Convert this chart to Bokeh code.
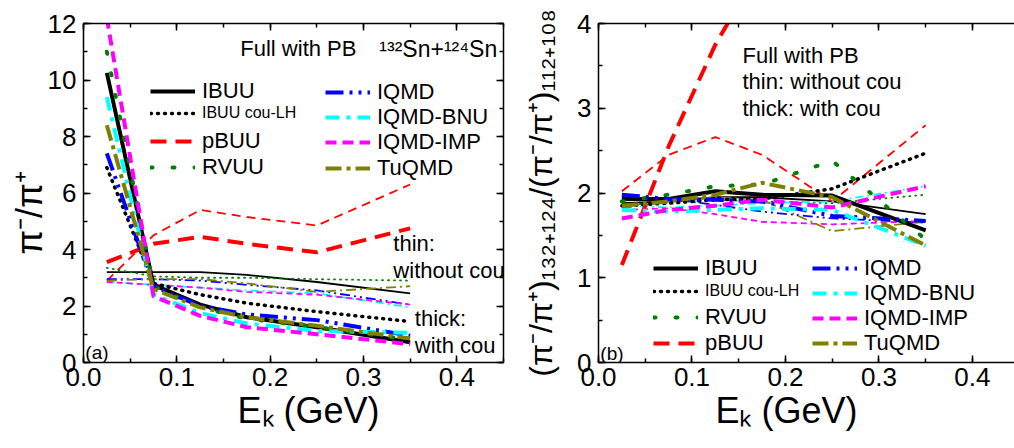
from bokeh.plotting import figure
from bokeh.models import (Range1d, LinearAxis, Legend, LegendItem, Label,
                          SingleIntervalTicker, NumeralTickFormatter, CustomJSTickFormatter)
from bokeh.layouts import row
from bokeh.embed import file_html
from bokeh.resources import INLINE

FONT = "Liberation Sans"

# ---------------- data ----------------
E_K = [0.025, 0.075, 0.125, 0.175, 0.25, 0.35]

# panel (a): pi-/pi+ ratio, thin = without Coulomb, thick = with Coulomb
a_thin = {
    "IBUU":     [3.2, 3.2, 3.2, 3.1, 2.85, 2.45],
    "pBUU":     [2.9, 4.5, 5.4, 5.15, 4.85, 6.3],
    "RVUU":     [3.35, 3.05, 3.0, 3.0, 2.95, 2.9],
    "IQMD":     [2.95, 2.95, 2.9, 2.75, 2.55, 2.05],
    "IQMD-BNU": [2.85, 2.75, 2.65, 2.55, 2.45, 1.95],
    "IQMD-IMP": [2.85, 2.75, 2.65, 2.5, 2.4, 2.05],
    "TuQMD":    [2.9, 2.95, 2.95, 2.8, 2.5, 2.7],
}
a_thick = {
    "IBUU":        [10.25, 2.75, 2.05, 1.6, 1.25, 0.72],
    "IBUU cou-LH": [6.9, 2.8, 2.4, 2.1, 1.8, 1.45],
    "pBUU":        [3.55, 4.2, 4.45, 4.2, 3.9, 4.75],
    "RVUU":        [11.0, 2.7, 1.95, 1.55, 1.25, 0.8],
    "IQMD":        [7.4, 2.7, 2.0, 1.7, 1.5, 0.95],
    "IQMD-BNU":    [9.4, 2.4, 1.75, 1.38, 1.12, 1.05],
    "IQMD-IMP":    [12.2, 2.35, 1.65, 1.25, 1.0, 0.65],
    "TuQMD":       [8.4, 2.6, 1.95, 1.6, 1.3, 0.85],
}

# panel (b): double ratio (132+124)/(112+108)
b_thin = {
    "IBUU":     [1.88, 1.9, 1.95, 1.95, 1.9, 1.75],
    "pBUU":     [2.02, 2.45, 2.66, 2.45, 1.9, 2.8],
    "RVUU":     [1.85, 1.9, 1.92, 1.9, 1.88, 1.98],
    "IQMD":     [1.95, 1.93, 1.86, 1.78, 1.7, 1.65],
    "IQMD-BNU": [1.85, 1.83, 1.85, 1.88, 1.9, 2.08],
    "IQMD-IMP": [1.8, 1.82, 1.75, 1.66, 1.63, 1.67],
    "TuQMD":    [1.82, 1.9, 1.95, 1.92, 1.55, 1.66],
}
b_thick = {
    "IBUU":        [1.93, 1.93, 2.02, 1.98, 1.97, 1.56],
    "IBUU cou-LH": [1.85, 1.88, 1.92, 1.93, 2.05, 2.47],
    "pBUU":        [1.15, 2.55, 3.75, 4.7, 5.2, 5.6],
    "RVUU":        [1.9, 1.98, 2.08, 2.1, 2.38, 1.45],
    "IQMD":        [1.98, 1.93, 1.92, 1.9, 1.73, 1.67],
    "IQMD-BNU":    [1.8, 1.78, 1.8, 1.82, 1.8, 1.38],
    "IQMD-IMP":    [1.7, 1.8, 1.85, 1.92, 1.83, 2.08],
    "TuQMD":       [1.85, 1.9, 1.98, 2.12, 1.95, 1.38],
}

# color, thick dash, thin dash, cap
STYLE = {
    "IBUU":        ("#000000", "solid", "solid", "butt"),
    "IBUU cou-LH": ("#000000", "1 6", "1 6", "round"),
    "pBUU":        ("#ff0000", "16 9", "9 6", "butt"),
    "RVUU":        ("#008000", "2 20", "1 5", "round"),
    "IQMD":        ("#0000ff", "18 6 3 6 3 6", "10 4 2 4 2 4", "butt"),
    "IQMD-BNU":    ("#00ffff", "14 7 4 7", "8 4 2 4", "butt"),
    "IQMD-IMP":    ("#ff00ff", "11 6", "6 4", "butt"),
    "TuQMD":       ("#808000", "16 5 4 5", "10 4 2 4", "butt"),
}

H = 448
TOP = 23
BOTTOM = 86
FRAME_BOTTOM = H - BOTTOM
TXT = "22px"
NB = "\u00a0"


def style_axis(ax, labels=True):
    ax.axis_line_width = 1.5
    ax.axis_line_color = "black"
    ax.major_tick_in = 7
    ax.major_tick_out = 0
    ax.minor_tick_in = 4
    ax.minor_tick_out = 0
    ax.major_tick_line_width = 1.5
    ax.minor_tick_line_width = 1.5
    ax.major_tick_line_color = "black"
    ax.minor_tick_line_color = "black"
    ax.major_label_text_font = FONT
    ax.major_label_text_color = "black"
    ax.axis_label_text_font = FONT
    ax.axis_label_text_font_style = "normal"
    ax.axis_label_text_color = "black"
    if labels:
        ax.major_label_text_font_size = "26px"
    else:
        ax.major_label_text_font_size = "0px"
        ax.major_label_standoff = 0
        ax.formatter = CustomJSTickFormatter(code="return ''")


def make_fig(W, L, R, x_end, y_end, y_int, xlabel, ylabel, ylabel_size, ylabel_standoff, right_axis):
    p = figure(width=W, height=H, x_range=Range1d(0, x_end), y_range=Range1d(0, y_end),
               output_backend="svg", toolbar_location=None,
               min_border_left=L, min_border_right=R, min_border_top=TOP,
               min_border_bottom=BOTTOM)
    p.grid.visible = False
    p.outline_line_color = None
    p.background_fill_color = "white"
    xa = p.xaxis[0]
    ya = p.yaxis[0]
    xa.ticker = SingleIntervalTicker(interval=0.1, num_minor_ticks=2)
    ya.ticker = SingleIntervalTicker(interval=y_int, num_minor_ticks=2)
    xa.formatter = NumeralTickFormatter(format="0.0")
    style_axis(xa)
    style_axis(ya)
    xa.major_label_standoff = 5
    ya.major_label_standoff = 7
    xa.axis_label = xlabel
    xa.axis_label_text_font_size = "36px"
    xa.axis_label_standoff = 1
    ya.axis_label = ylabel
    ya.axis_label_text_font_size = ylabel_size
    ya.axis_label_standoff = ylabel_standoff
    top = LinearAxis(ticker=SingleIntervalTicker(interval=0.1, num_minor_ticks=2))
    style_axis(top, labels=False)
    p.add_layout(top, "above")
    if right_axis:
        ra = LinearAxis(ticker=SingleIntervalTicker(interval=y_int, num_minor_ticks=2))
        style_axis(ra, labels=False)
        p.add_layout(ra, "right")
    return p


def draw(p, thin, thick):
    rends = {}
    for name, ys in thin.items():
        c, dk, dn, cap = STYLE[name]
        p.line(E_K, ys, line_color=c, line_dash=dn, line_width=1.8, line_cap=cap, line_join="round")
    for name, ys in thick.items():
        c, dk, dn, cap = STYLE[name]
        w = 3.5 if name == "IBUU cou-LH" else 4
        rends[name] = p.line(E_K, ys, line_color=c, line_dash=dk, line_width=w,
                             line_cap=cap, line_join="round")
    return rends


def legend_row(p, r, text, x_off, y_page, size=TXT):
    h = 22
    leg = Legend(items=[LegendItem(label=text, renderers=[r])],
                 location=(x_off, FRAME_BOTTOM - y_page - h / 2),
                 padding=0, margin=0, spacing=0, glyph_width=45, glyph_height=h,
                 label_height=h, label_standoff=7, label_text_font=FONT,
                 label_text_font_size=size, label_text_color="black",
                 background_fill_alpha=0, border_line_alpha=0)
    p.add_layout(leg)


def text(p, x, y, s, size=TXT):
    p.add_layout(Label(x=x, y=y, text=s, text_font=FONT, text_font_size=size,
                       text_baseline="middle", text_align="left", text_color="black"))


XLABEL = "E\u2096 (GeV)"

# ---------------- panel (a) ----------------
pa = make_fig(513, 83, 10, 0.45, 12, 2, NB * 3 + XLABEL,
              "\u03c0\u207b/\u03c0\u207a" + NB * 4, "36px", -5, True)
ra = draw(pa, a_thin, a_thick)
col1 = [("IBUU", 93, TXT), ("IBUU cou-LH", 113, "16px"), ("pBUU", 143, TXT), ("RVUU", 169, TXT)]
col2 = [("IQMD", 94), ("IQMD-BNU", 119), ("IQMD-IMP", 144), ("TuQMD", 170)]
for name, yp, sz in col1:
    legend_row(pa, ra[name], name, 67, yp, sz)
for name, yp in col2:
    legend_row(pa, ra[name], name, 242, yp)
text(pa, 0.168, 11.13, "Full with PB")
text(pa, 0.317, 11.1, "\u00b9\u00b3\u00b2Sn+\u00b9\u00b2\u2074Sn", "23px")
text(pa, 0.332, 4.2, "thin:")
text(pa, 0.332, 3.25, "without cou")
text(pa, 0.355, 1.55, "thick:")
text(pa, 0.355, 0.6, "with cou")
text(pa, 0.002, 0.35, "(a)", "19px")

# ---------------- panel (b) ----------------
pb = make_fig(501, 85, 0, 0.445, 4, 1, XLABEL + NB * 4,
              "(\u03c0\u207b/\u03c0\u207a)\u2081\u2083\u2082\u208a\u2081\u2082\u2084/(\u03c0\u207b/\u03c0\u207a)\u2081\u2081\u2082\u208a\u2081\u2080\u2088",
              "32px", 15, False)
rb = draw(pb, b_thin, b_thick)
col1b = [("IBUU", 270, TXT), ("IBUU cou-LH", 291, "16px"), ("RVUU", 319, TXT), ("pBUU", 345, TXT)]
col2b = [("IQMD", 270), ("IQMD-BNU", 295), ("IQMD-IMP", 320), ("TuQMD", 345)]
for name, yp, sz in col1b:
    legend_row(pb, rb[name], name, 55, yp, sz)
for name, yp in col2b:
    legend_row(pb, rb[name], name, 214, yp)
text(pb, 0.154, 3.62, "Full with PB")
text(pb, 0.154, 3.32, "thin: without cou")
text(pb, 0.154, 3.0, "thick: with cou")
text(pb, 0.002, 0.106, "(b)", "19px")

layout = row(pa, pb)
open("out.html", "w").write(file_html(layout, INLINE))
